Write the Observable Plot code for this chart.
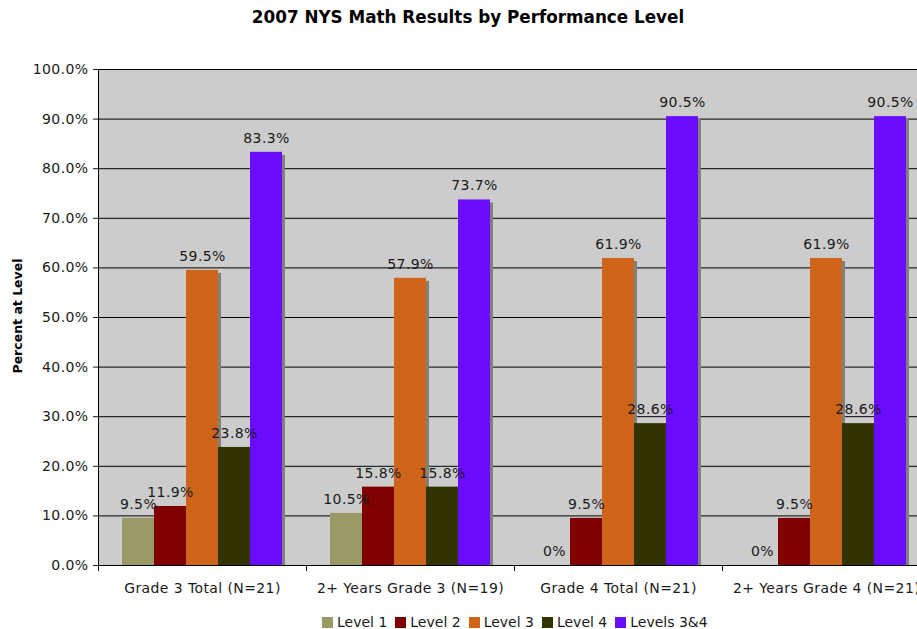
<!DOCTYPE html>
<html>
<head>
<meta charset="utf-8">
<script src="https://cdn.jsdelivr.net/npm/d3@7"></script>
<script src="https://cdn.jsdelivr.net/npm/@observablehq/plot@0.6"></script>
<style>
  html, body { margin: 0; padding: 0; background: #fff; }
  #wrap { position: relative; width: 917px; height: 629px; overflow: hidden; font-family: "DejaVu Sans", Verdana, sans-serif; color: #1a1a1a; }
  #chart { position: absolute; left: 0; top: 0; width: 936px; }
  #chart svg text { letter-spacing: 0.4px; }
  #title { position: absolute; left: 0; top: 7px; width: 936px; text-align: center; font-weight: bold; font-size: 16.8px; line-height: 20px; color: #000; }
  #ylabel { position: absolute; left: 17px; top: 316px; transform: translate(-50%, -50%) rotate(-90deg); white-space: nowrap; font-weight: bold; font-size: 12.5px; color: #000; }
  #legend { position: absolute; left: 322px; top: 613px; display: flex; align-items: center; font-size: 14px; line-height: 18px; }
  .item { display: flex; align-items: center; margin-right: 8px; }
  .sw { width: 11px; height: 11px; margin-right: 4px; }
</style>
</head>
<body>
<div id="wrap">
  <div id="chart"></div>
  <div id="title">2007 NYS Math Results by Performance Level</div>
  <div id="ylabel">Percent at Level</div>
  <div id="legend"></div>
</div>
<script>
const categories = ["Grade 3 Total (N=21)", "2+ Years Grade 3 (N=19)", "Grade 4 Total (N=21)", "2+ Years Grade 4 (N=21)"];
const series = ["Level 1", "Level 2", "Level 3", "Level 4", "Levels 3&4"];
const level1 = [9.5, 10.5, 0, 0];
const level2 = [11.9, 15.8, 9.5, 9.5];
const level3 = [59.5, 57.9, 61.9, 61.9];
const level4 = [23.8, 15.8, 28.6, 28.6];
const levels34 = [83.3, 73.7, 90.5, 90.5];
const colors = ["#999966", "#800000", "#CF6519", "#333300", "#6A0DFF"];
const yTicks = [0, 10, 20, 30, 40, 50, 60, 70, 80, 90, 100];

const seriesValues = [level1, level2, level3, level4, levels34];
const rows = [];
categories.forEach((cat, i) => {
  series.forEach((s, j) => rows.push({cat, series: s, value: seriesValues[j][i]}));
});
const fmt = v => v === 0 ? "0%" : v.toFixed(1) + "%";

const barMarks = [];
series.forEach(s => {
  barMarks.push(Plot.barY(rows, {filter: d => d.series === s, x: "series", y: "value", fill: "#808080", dx: 3, dy: 3, clip: true}));
  barMarks.push(Plot.barY(rows, {filter: d => d.series === s, x: "series", y: "value", fill: "series"}));
});

const plot = Plot.plot({
  width: 936,
  height: 629,
  marginTop: 69,
  marginBottom: 64,
  marginLeft: 98,
  marginRight: 6,
  style: {fontFamily: "DejaVu Sans, Verdana, sans-serif", fontSize: "14px", background: "transparent", color: "#1a1a1a", overflow: "visible"},
  facet: {data: rows, x: "cat"},
  fx: {domain: categories, padding: 0, label: null, tickSize: 0, tickPadding: 18, axis: "bottom"},
  x: {domain: series, paddingInner: 0, paddingOuter: 0.75, axis: null},
  y: {domain: [0, 100], ticks: yTicks, tickFormat: d => d.toFixed(1) + "%", tickSize: 5, tickPadding: 5, label: null},
  color: {domain: series, range: colors},
  marks: [
    Plot.frame({fill: "#CCCCCC", stroke: "#CCCCCC", shapeRendering: "crispEdges"}),
    Plot.ruleY(yTicks, {stroke: "#000", strokeWidth: 1}),
    ...barMarks,
    Plot.text(rows, {x: "series", y: "value", text: d => fmt(d.value), dy: -14, fontSize: 14, fill: "#1a1a1a"})
  ]
});
document.getElementById("chart").appendChild(plot);

// axis domain line and category separator ticks
const svg = d3.select(plot);
const yS = plot.scale("y");
const fxS = plot.scale("fx");
const y0 = yS.apply(0), y100 = yS.apply(100);
svg.append("line").attr("x1", 98.5).attr("x2", 98.5).attr("y1", y100).attr("y2", y0 + 0.5).attr("stroke", "#000");
const bounds = categories.map(c => fxS.apply(c)).concat([fxS.apply(categories[categories.length - 1]) + fxS.bandwidth]);
bounds.forEach(bx => {
  svg.append("line").attr("x1", Math.round(bx) + 0.5).attr("x2", Math.round(bx) + 0.5).attr("y1", y0).attr("y2", y0 + 6).attr("stroke", "#000");
});

// legend
const legend = d3.select("#legend");
series.forEach((s, i) => {
  const it = legend.append("div").attr("class", "item");
  it.append("div").attr("class", "sw").style("background", colors[i]);
  it.append("span").text(s);
});
</script>
</body>
</html>
